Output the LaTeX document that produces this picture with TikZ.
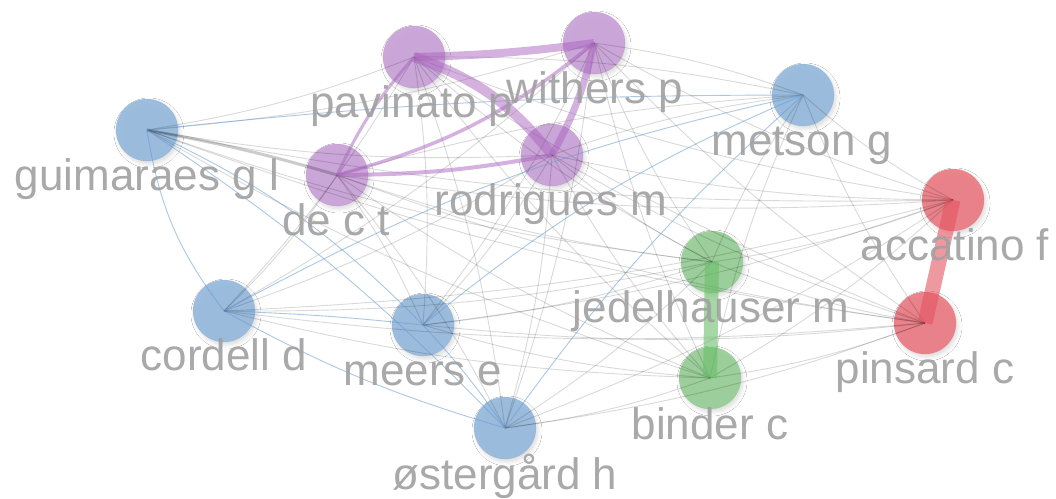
\documentclass[tikz,border=0pt]{standalone}
\usepackage{fontspec}
\setmainfont{Liberation Sans}
\usetikzlibrary{shadows.blur}
\definecolor{nblue}{RGB}{150,185,220}
\definecolor{npurple}{RGB}{200,162,215}
\definecolor{ngreen}{RGB}{150,205,150}
\definecolor{nred}{RGB}{234,122,130}
\definecolor{eblue}{RGB}{100,155,210}
\definecolor{epurple}{RGB}{170,100,190}
\definecolor{egreen}{RGB}{105,190,105}
\definecolor{ered}{RGB}{228,85,98}
\definecolor{labgray}{RGB}{160,160,160}
\tikzset{
  bub/.style={circle, minimum size=62pt, inner sep=0pt, fill opacity=0.92, draw opacity=0.2, line width=0.6pt,
    blur shadow={shadow xshift=2pt, shadow yshift=-3pt, shadow blur radius=4pt, shadow opacity=15}},
  lab/.style={anchor=base, font=\fontsize{44}{48}\selectfont, text=labgray, text opacity=0.9},
  gedge/.style={draw=black, draw opacity=0.15, line width=0.9pt},
  bedge/.style={draw=eblue, draw opacity=0.55, line width=0.9pt},
  pedge/.style={draw=epurple, draw opacity=0.5, line cap=butt},
  gredge/.style={draw=egreen, draw opacity=0.6, line cap=butt},
  redge/.style={draw=ered, draw opacity=0.6, line cap=butt},
}
\begin{document}
\begin{tikzpicture}[x=1pt,y=-1pt]
\useasboundingbox (0,0) rectangle (1056,498);
\fill[white] (0,0) rectangle (1056,498);
% nodes
\node[bub, fill=nblue, draw=eblue]     (gu) at (147,130) {};
\node[bub, fill=npurple, draw=epurple] (pa) at (414,57) {};
\node[bub, fill=npurple, draw=epurple] (wi) at (594,43) {};
\node[bub, fill=npurple, draw=epurple] (dc) at (337,175) {};
\node[bub, fill=npurple, draw=epurple] (ro) at (552,155) {};
\node[bub, fill=nblue, draw=eblue]     (me) at (803,95) {};
\node[bub, fill=nred, draw=ered]       (ac) at (953,200) {};
\node[bub, fill=ngreen, draw=egreen]   (je) at (712,262) {};
\node[bub, fill=nred, draw=ered]       (pi) at (925,323) {};
\node[bub, fill=nblue, draw=eblue]     (co) at (224,311) {};
\node[bub, fill=nblue, draw=eblue]     (mr) at (423,325) {};
\node[bub, fill=ngreen, draw=egreen]   (bi) at (710,378) {};
\node[bub, fill=nblue, draw=eblue]     (os) at (505,428) {};
% gray inter-cluster links
\foreach \a/\b in {gu/pa,gu/wi,gu/ro,me/pa,me/wi,me/dc,me/ro,co/pa,co/wi,co/dc,co/ro,
  mr/pa,mr/wi,mr/dc,mr/ro,os/pa,os/wi,os/dc,os/ro,
  gu/je,gu/bi,me/je,me/bi,co/je,co/bi,mr/je,mr/bi,os/je,os/bi,
  gu/ac,gu/pi,me/ac,me/pi,co/ac,co/pi,mr/ac,mr/pi,os/ac,os/pi,
  pa/je,pa/bi,wi/je,wi/bi,dc/je,dc/bi,ro/je,ro/bi,
  pa/ac,pa/pi,wi/ac,wi/pi,dc/ac,dc/pi,ro/ac,ro/pi,
  je/ac,je/pi,bi/ac,bi/pi}
  \draw[gedge] (\a.center) to[bend right=6] (\b.center);
\draw[gedge, line width=3pt, draw opacity=0.2] (gu.center) to[bend left=3] (dc.center);
% blue intra-cluster links
\draw[bedge] (gu.center) to[bend right=14] (co.center);
\draw[bedge] (gu.center) to[bend left=3] (me.center);
\draw[bedge] (gu.center) to[bend left=10] (mr.center);
\draw[bedge] (gu.center) to[bend left=6] (os.center);
\draw[bedge] (co.center) to[bend left=8] (me.center);
\draw[bedge] (co.center) to[bend left=2] (mr.center);
\draw[bedge] (co.center) to[bend right=6] (os.center);
\draw[bedge] (mr.center) to[bend left=8] (me.center);
\draw[bedge] (mr.center) to[bend left=4] (os.center);
\draw[bedge] (os.center) to[bend left=6] (me.center);
% purple links
\draw[pedge, line width=8pt] (pa.center) to[bend right=3] (wi.center);
\draw[pedge, line width=10pt] (ro.center) to[bend right=16] (pa.center);
\draw[pedge, line width=7pt] (ro.center) to[bend right=8] (wi.center);
\draw[pedge, line width=3.5pt] (dc.center) to[bend right=12] (wi.center);
\draw[pedge, line width=4pt] (dc.center) to[bend right=5] (ro.center);
\draw[pedge, line width=3pt] (pa.center) to[bend right=8] (dc.center);
% green and red links
\draw[gredge, line width=14pt] (je.center) -- (bi.center);
\draw[redge, line width=15pt] (ac.center) -- (pi.center);
% labels
\node[lab] (gu-l) at (147,190) {guimaraes g l};
\node[lab] (pa-l) at (412,117) {pavinato p};
\node[lab] (wi-l) at (595,103) {withers p};
\node[lab] (dc-l) at (336,235) {de c t};
\node[lab] (ro-l) at (551,215) {rodrigues m};
\node[lab] (me-l) at (802,155) {metson g};
\node[lab] (ac-l) at (955,260) {accatino f};
\node[lab] (je-l) at (711,322) {jedelhauser m};
\node[lab] (pi-l) at (925,383) {pinsard c};
\node[lab] (co-l) at (224,370) {cordell d};
\node[lab] (mr-l) at (423,385) {meers e};
\node[lab] (bi-l) at (710,439) {binder c};
\node[lab] (os-l) at (505,489) {østergård h};
\end{tikzpicture}
\end{document}
